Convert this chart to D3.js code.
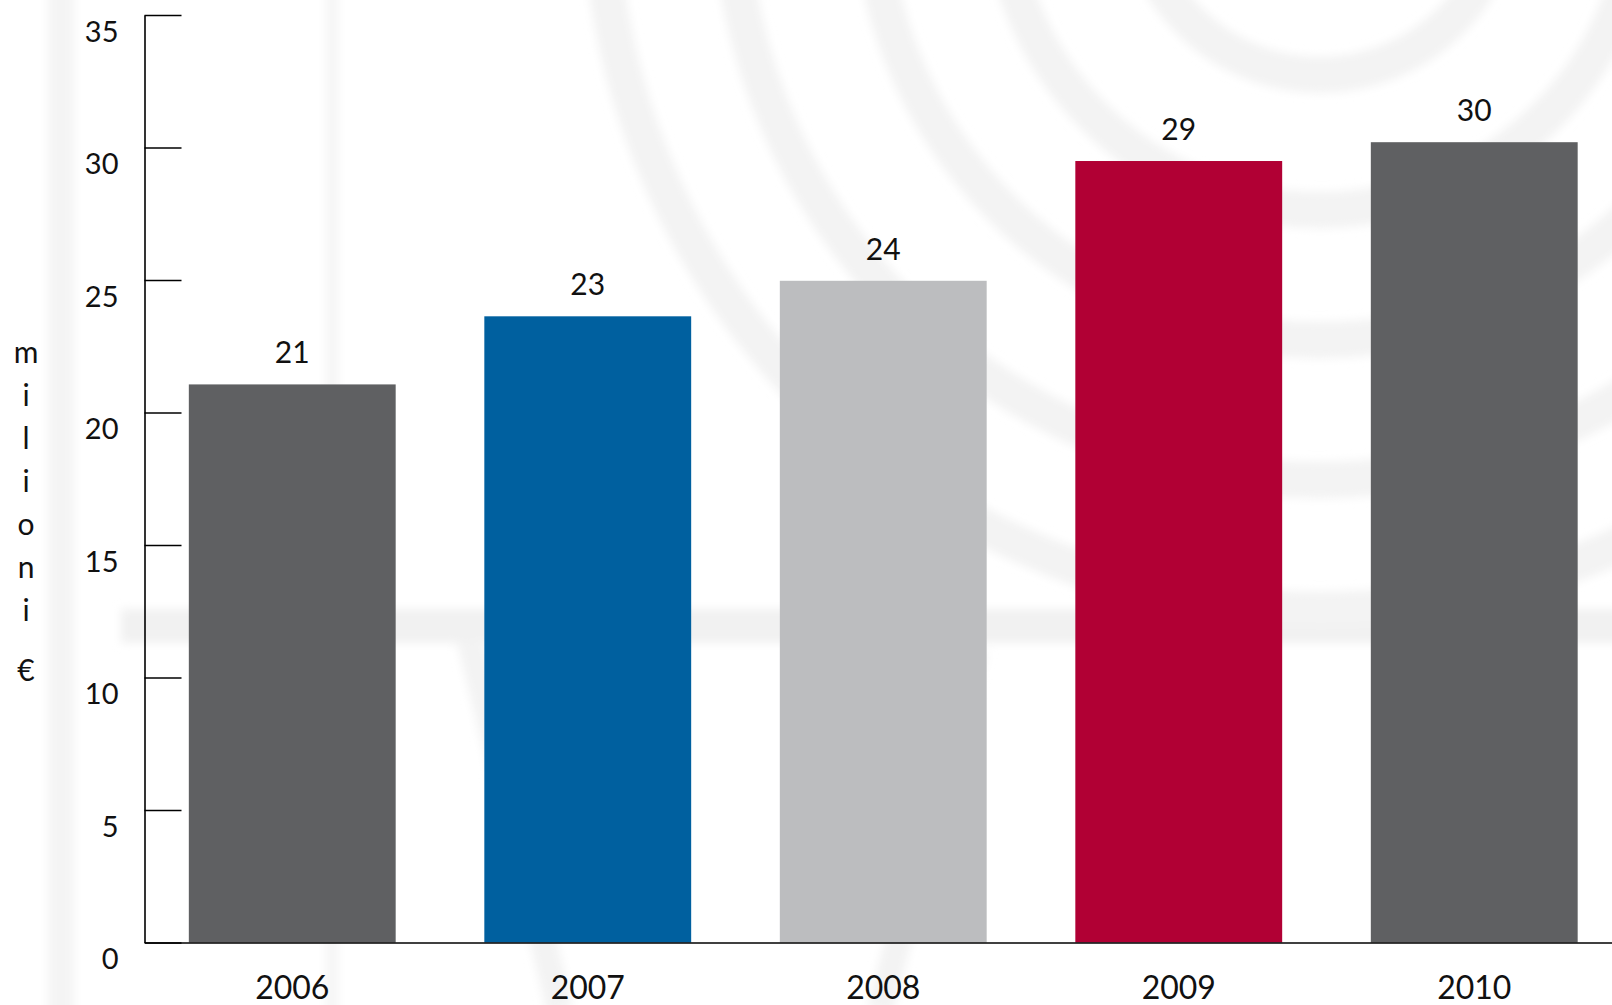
<!DOCTYPE html>
<html>
<head>
<meta charset="utf-8">
<script src="https://cdn.jsdelivr.net/npm/d3@7"></script>
<style>
  body { margin: 0; background: #fff; }
  svg { display: block; }
  .axis text { font-family: Lato, "Open Sans", sans-serif; fill: #111; }
</style>
</head>
<body>
<div id="chart"></div>
<script>
// data
const years = ["2006", "2007", "2008", "2009", "2010"];
const values = [21.06, 23.63, 24.97, 29.49, 30.2];
const valueLabels = ["21", "23", "24", "29", "30"];
const barColors = ["#5f6062", "#00609f", "#bcbdbf", "#b10034", "#5f6062"];
const yTicks = [0, 5, 10, 15, 20, 25, 30, 35];
const yTitle = "milioni €";

const width = 1612, height = 1005;

const svg = d3.select("#chart").append("svg")
  .attr("width", width)
  .attr("height", height);

// faint watermark in the back
const defs = svg.append("defs");
defs.append("filter").attr("id", "soft")
  .attr("x", "-20%").attr("y", "-20%").attr("width", "140%").attr("height", "140%")
  .append("feGaussianBlur").attr("stdDeviation", 5);

const wm = svg.append("g")
  .attr("filter", "url(#soft)")
  .attr("fill", "none")
  .attr("stroke", "#f3f3f3");

wm.append("rect").attr("x", 48).attr("y", -20).attr("width", 26).attr("height", 1050)
  .attr("fill", "#f4f4f4").attr("stroke", "none");
wm.append("rect").attr("x", 326).attr("y", -20).attr("width", 12).attr("height", 1050)
  .attr("fill", "#f5f5f5").attr("stroke", "none");
wm.append("rect").attr("x", 121).attr("y", 609).attr("width", 1500).attr("height", 34)
  .attr("fill", "#f1f1f1").attr("stroke", "none");

[185, 320, 450, 590, 720].forEach(r => {
  wm.append("circle").attr("cx", 1320).attr("cy", -110).attr("r", r)
    .attr("stroke-width", 36);
});
wm.append("path").attr("d", "M470,640 L560,1010").attr("stroke-width", 26);
wm.append("path").attr("d", "M975,650 L880,1010").attr("stroke-width", 26);

// scales
const x = d3.scaleBand()
  .domain(years)
  .range([144.5, 1622])
  .paddingInner(0.3)
  .paddingOuter(0.15);

const y = d3.scaleLinear()
  .domain([0, 35])
  .range([942.5, 15]);

// bars
svg.selectAll("rect.bar")
  .data(years)
  .enter()
  .append("rect")
  .attr("class", "bar")
  .attr("x", d => x(d))
  .attr("width", x.bandwidth())
  .attr("y", (d, i) => y(values[i]))
  .attr("height", (d, i) => y(0) - y(values[i]))
  .style("fill", (d, i) => barColors[i]);

// value labels above bars
svg.selectAll("text.valueLabel")
  .data(years)
  .enter()
  .append("text")
  .attr("class", "valueLabel")
  .attr("x", d => x(d) + x.bandwidth() / 2)
  .attr("y", (d, i) => y(values[i]) - 21)
  .style("text-anchor", "middle")
  .style("font", "30px Lato, sans-serif")
  .style("fill", "#111")
  .text((d, i) => valueLabels[i]);

// y axis, ticks pointing inward
const yAxis = d3.axisLeft(y)
  .tickValues(yTicks)
  .tickSize(-37)
  .tickSizeOuter(0)
  .tickPadding(26);

const gy = svg.append("g")
  .attr("class", "axis yAxis")
  .attr("transform", "translate(144.5,0)")
  .call(yAxis);
gy.select(".domain").attr("stroke", "#000").attr("stroke-width", 1.6);
gy.selectAll(".tick line").attr("stroke", "#000").attr("stroke-width", 1.6);
gy.selectAll(".tick text")
  .attr("y", 17)
  .style("font-size", "29px");

// x axis
const xAxis = d3.axisBottom(x)
  .tickSize(0)
  .tickSizeOuter(0)
  .tickPadding(34);

const gx = svg.append("g")
  .attr("class", "axis xAxis")
  .attr("transform", `translate(0,${y(0)})`)
  .call(xAxis);
gx.select(".domain").attr("stroke", "#000").attr("stroke-width", 1.6);
gx.selectAll(".tick text").style("font-size", "32px");

// vertical stacked axis title
let ty = 363;
const title = svg.append("text")
  .attr("class", "yTitle")
  .style("font", "30px Lato, sans-serif")
  .style("fill", "#111")
  .style("text-anchor", "middle");
yTitle.split("").forEach(ch => {
  if (ch === " ") { ty += 17; return; }
  title.append("tspan").attr("x", 26).attr("y", ty).text(ch);
  ty += 43;
});
</script>
</body>
</html>
